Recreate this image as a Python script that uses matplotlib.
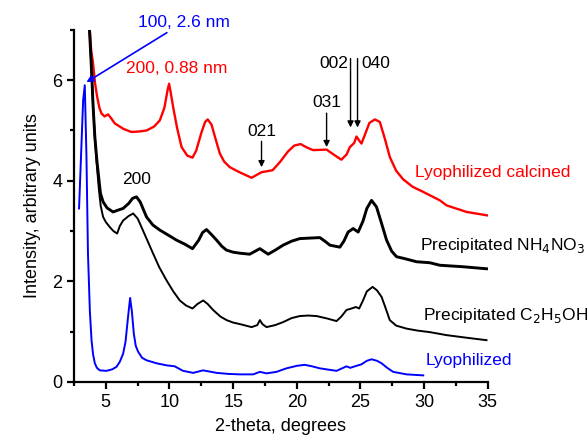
import matplotlib
matplotlib.use("Agg")
import matplotlib.pyplot as plt

plt.rcParams['font.family'] = ['Liberation Sans', 'DejaVu Sans']

# Lyophilized calcined (red)
calc_x = [3.6, 3.74, 3.85, 4.0, 4.15, 4.32, 4.5, 4.66, 4.9, 5.18, 5.4, 5.71, 6.4, 7.02, 7.6, 8.2, 8.8, 9.24, 9.6, 9.85, 9.97, 10.1, 10.3, 10.6, 10.95, 11.4, 11.81, 12.1, 12.5, 12.8, 13.0, 13.3, 13.6, 13.96, 14.3, 14.74, 15.5, 16.45, 17.23, 18.1, 18.67, 19.3, 19.8, 20.3, 20.8, 21.28, 22.34, 22.9, 23.5, 23.9, 24.17, 24.5, 24.69, 24.9, 25.08, 25.4, 25.7, 26.13, 26.52, 26.9, 27.31, 27.8, 28.35, 29.1, 29.92, 31.24, 31.77, 33.34, 35.0]
calc_y = [7.6, 7.0, 6.6, 6.33, 5.95, 5.67, 5.45, 5.34, 5.28, 5.32, 5.25, 5.14, 5.03, 4.97, 4.98, 5.0, 5.08, 5.2, 5.45, 5.8, 5.93, 5.75, 5.45, 5.05, 4.67, 4.5, 4.46, 4.6, 4.95, 5.17, 5.22, 5.12, 4.85, 4.54, 4.38, 4.27, 4.17, 4.06, 4.17, 4.21, 4.37, 4.58, 4.7, 4.73, 4.66, 4.61, 4.62, 4.52, 4.42, 4.52, 4.67, 4.75, 4.88, 4.8, 4.74, 4.95, 5.15, 5.22, 5.17, 4.85, 4.47, 4.2, 4.03, 3.88, 3.78, 3.61, 3.51, 3.38, 3.31]

# Precipitated NH4NO3 (thick black)
nh_x = [3.6, 3.72, 3.88, 4.0, 4.14, 4.3, 4.45, 4.58, 4.79, 5.1, 5.57, 6.0, 6.36, 6.8, 7.1, 7.41, 7.7, 8.2, 8.7, 9.24, 9.9, 10.55, 11.2, 11.81, 12.3, 12.6, 12.91, 13.3, 13.7, 14.1, 14.48, 15.0, 15.53, 16.3, 17.1, 17.75, 18.3, 18.93, 19.6, 20.24, 21.0, 21.81, 22.2, 22.6, 23.38, 23.7, 24.03, 24.43, 24.82, 25.2, 25.5, 25.87, 26.26, 26.6, 27.05, 27.45, 27.83, 28.5, 29.4, 30.45, 31.24, 33.07, 34.9]
nh_y = [7.6, 7.0, 6.2, 5.5, 4.87, 4.4, 4.05, 3.75, 3.58, 3.46, 3.38, 3.42, 3.45, 3.55, 3.65, 3.68, 3.58, 3.28, 3.12, 3.02, 2.92, 2.82, 2.74, 2.65, 2.82, 2.97, 3.03, 2.93, 2.82, 2.7, 2.62, 2.58, 2.56, 2.54, 2.65, 2.54, 2.62, 2.72, 2.8, 2.85, 2.86, 2.87, 2.8, 2.72, 2.68, 2.8, 2.98, 3.05, 2.98, 3.2, 3.45, 3.61, 3.48, 3.2, 2.82, 2.6, 2.49, 2.45, 2.39, 2.37, 2.32, 2.29, 2.25]

# Precipitated C2H5OH (thin black)
et_x = [3.6, 3.72, 3.88, 4.0, 4.14, 4.3, 4.45, 4.6, 4.79, 5.0, 5.31, 5.6, 5.89, 6.1, 6.36, 6.8, 7.15, 7.5, 7.8, 8.2, 8.72, 9.2, 9.77, 10.3, 10.81, 11.3, 11.81, 12.2, 12.65, 13.0, 13.43, 14.0, 14.48, 15.0, 15.53, 16.45, 16.9, 17.1, 17.3, 17.62, 18.3, 18.93, 19.6, 20.24, 20.9, 21.55, 22.4, 23.12, 23.5, 23.9, 24.3, 24.64, 24.9, 25.2, 25.5, 25.95, 26.3, 26.66, 27.0, 27.3, 27.8, 28.62, 29.5, 30.45, 31.77, 33.3, 34.9]
et_y = [7.6, 7.0, 6.2, 5.5, 4.87, 4.3, 3.85, 3.5, 3.28, 3.18, 3.08, 3.0, 2.95, 3.1, 3.21, 3.3, 3.35, 3.25, 3.08, 2.85, 2.55, 2.28, 2.02, 1.8, 1.62, 1.52, 1.46, 1.55, 1.62, 1.55, 1.43, 1.3, 1.23, 1.18, 1.15, 1.09, 1.13, 1.23, 1.15, 1.09, 1.13, 1.19, 1.27, 1.31, 1.32, 1.31, 1.26, 1.21, 1.3, 1.43, 1.46, 1.49, 1.46, 1.62, 1.8, 1.89, 1.82, 1.69, 1.45, 1.23, 1.12, 1.06, 1.02, 0.99, 0.93, 0.88, 0.83]

# Lyophilized (blue)
lyo_x = [2.9, 3.22, 3.35, 3.48, 3.6, 3.75, 3.88, 4.0, 4.14, 4.3, 4.53, 5.05, 5.5, 5.84, 6.1, 6.36, 6.55, 6.75, 6.91, 7.05, 7.2, 7.35, 7.54, 7.85, 8.2, 9.0, 9.77, 10.42, 10.7, 11.07, 11.86, 12.64, 13.7, 14.6, 15.53, 16.57, 17.1, 17.62, 18.4, 19.19, 20.0, 20.63, 21.2, 21.81, 23.12, 23.9, 24.2, 24.56, 25.08, 25.5, 25.87, 26.3, 26.66, 27.1, 27.57, 28.62, 29.93]
lyo_y = [3.45, 5.6, 5.9, 4.5, 2.55, 1.4, 0.83, 0.55, 0.37, 0.28, 0.23, 0.22, 0.25, 0.3, 0.4, 0.56, 0.8, 1.3, 1.67, 1.4, 0.96, 0.72, 0.6, 0.48, 0.43, 0.37, 0.33, 0.31, 0.27, 0.22, 0.18, 0.23, 0.18, 0.16, 0.15, 0.15, 0.2, 0.17, 0.2, 0.27, 0.32, 0.34, 0.31, 0.27, 0.22, 0.31, 0.28, 0.31, 0.35, 0.42, 0.45, 0.42, 0.37, 0.28, 0.2, 0.15, 0.13]

curve_labels = ["Lyophilized calcined", "Precipitated NH$_4$NO$_3$", "Precipitated C$_2$H$_5$OH", "Lyophilized"]
hkl_labels = ["021", "031", "002", "040"]
hkl_pos = [17.23, 22.34, 24.22, 24.77]

fig = plt.figure(figsize=(5.87, 4.40), dpi=100)
ax = fig.add_axes([0.126, 0.132, 0.705, 0.800])

ax.plot(calc_x, calc_y, color='#ff0000', lw=1.7)
ax.plot(nh_x, nh_y, color='black', lw=2.1)
ax.plot(et_x, et_y, color='black', lw=1.4)
ax.plot(lyo_x, lyo_y, color='#0000ff', lw=1.4)

ax.set_xlim(2.5, 35)
ax.set_ylim(0, 7)
ax.set_xticks([5, 10, 15, 20, 25, 30, 35])
ax.set_xticks([2.5, 7.5, 12.5, 17.5, 22.5, 27.5, 32.5], minor=True)
ax.set_yticks([0, 2, 4, 6])
ax.set_yticks([1, 3, 5, 7], minor=True)
for s in ['top', 'right']:
    ax.spines[s].set_visible(False)
for s in ['left', 'bottom']:
    ax.spines[s].set_linewidth(1.6)
ax.tick_params(which='major', direction='out', length=5, width=1.6, labelsize=13)
ax.tick_params(which='minor', direction='out', length=3, width=1.6)
ax.set_xlabel("2-theta, degrees", fontsize=13, labelpad=5)
ax.set_ylabel("Intensity, arbitrary units", fontsize=13, labelpad=8)

fs = 12.5
ax.annotate("100, 2.6 nm", xy=(3.48, 5.96), xytext=(7.5, 7.15), color='#0000ff', fontsize=fs,
            ha='left', va='center', annotation_clip=False,
            arrowprops=dict(arrowstyle='-|>', color='#0000ff', lw=1.2, shrinkA=0, shrinkB=0,
                            mutation_scale=10))
ax.text(6.55, 6.24, "200, 0.88 nm", color='#ff0000', fontsize=fs, ha='left', va='center')
ax.text(7.41, 4.03, "200", color='black', fontsize=fs, ha='center', va='center')

ax.annotate(hkl_labels[0], xy=(hkl_pos[0], 4.27), xytext=(hkl_pos[0], 4.84), fontsize=fs,
            ha='center', va='bottom',
            arrowprops=dict(arrowstyle='-|>', color='black', lw=1.0, shrinkA=0, shrinkB=0, mutation_scale=9))
ax.annotate(hkl_labels[1], xy=(hkl_pos[1], 4.67), xytext=(hkl_pos[1], 5.4), fontsize=fs,
            ha='center', va='bottom',
            arrowprops=dict(arrowstyle='-|>', color='black', lw=1.0, shrinkA=0, shrinkB=0, mutation_scale=9))
ax.annotate("", xy=(hkl_pos[2], 5.06), xytext=(hkl_pos[2], 6.43),
            arrowprops=dict(arrowstyle='-|>', color='black', lw=1.0, shrinkA=0, shrinkB=0, mutation_scale=9))
ax.annotate("", xy=(hkl_pos[3], 5.06), xytext=(hkl_pos[3], 6.43),
            arrowprops=dict(arrowstyle='-|>', color='black', lw=1.0, shrinkA=0, shrinkB=0, mutation_scale=9))
ax.text(22.9, 6.34, hkl_labels[2], fontsize=fs, ha='center', va='center')
ax.text(26.2, 6.34, hkl_labels[3], fontsize=fs, ha='center', va='center')

ax.text(29.27, 4.17, curve_labels[0], color='#ff0000', fontsize=fs, ha='left', va='center', clip_on=False)
ax.text(29.67, 2.72, curve_labels[1], color='black', fontsize=fs, ha='left', va='center', clip_on=False)
ax.text(29.93, 1.33, curve_labels[2], color='black', fontsize=fs, ha='left', va='center', clip_on=False)
ax.text(30.1, 0.42, curve_labels[3], color='#0000ff', fontsize=fs, ha='left', va='center', clip_on=False)

fig.savefig("out.png", dpi=100)
